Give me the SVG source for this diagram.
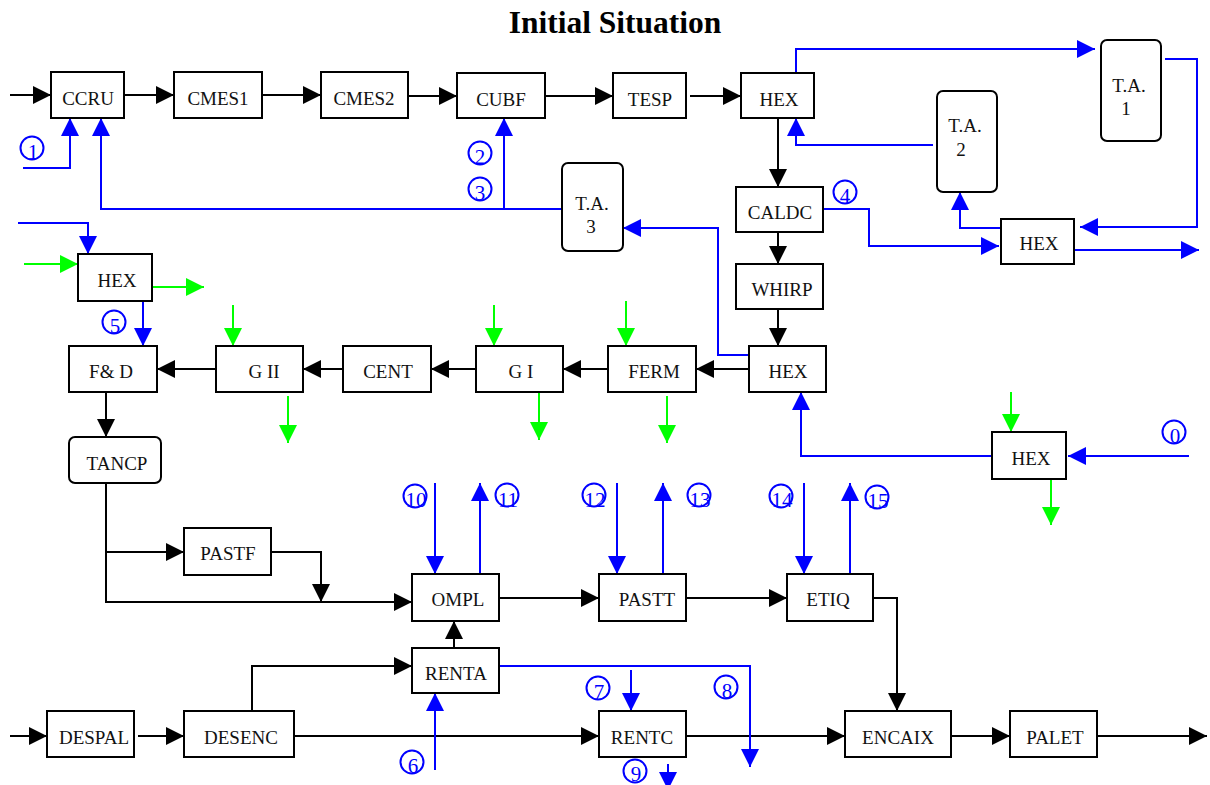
<svg xmlns="http://www.w3.org/2000/svg" width="1210" height="785" viewBox="0 0 1210 785">
<style>
.box{fill:#fff;stroke:#000;stroke-width:2}
.lbl{font-family:"Liberation Serif","Times New Roman",serif;font-size:19px;fill:#111;text-anchor:middle}
.num{font-family:"Liberation Serif","Times New Roman",serif;font-size:21px;fill:#0000ff;text-anchor:middle}
.circ{fill:none;stroke:#0000ff;stroke-width:2}
.k{fill:none;stroke:#000;stroke-width:2;marker-end:url(#ak)}
.b{fill:none;stroke:#0000ff;stroke-width:2;marker-end:url(#ab)}
.g{fill:none;stroke:#00ff00;stroke-width:2;marker-end:url(#ag)}
.title{font-family:"Liberation Serif","Times New Roman",serif;font-size:31.5px;font-weight:bold;text-anchor:middle;fill:#000}
</style>
<defs>
<marker id="ak" markerUnits="userSpaceOnUse" markerWidth="18" markerHeight="18" refX="18" refY="9" orient="auto"><path d="M0,0 L18,9 L0,18 z" fill="#000"/></marker>
<marker id="ab" markerUnits="userSpaceOnUse" markerWidth="18" markerHeight="18" refX="18" refY="9" orient="auto"><path d="M0,0 L18,9 L0,18 z" fill="#0000ff"/></marker>
<marker id="ag" markerUnits="userSpaceOnUse" markerWidth="18" markerHeight="18" refX="18" refY="9" orient="auto"><path d="M0,0 L18,9 L0,18 z" fill="#00ff00"/></marker>
</defs>
<rect width="1210" height="785" fill="#fff"/>
<text class="title" x="615" y="33">Initial Situation</text>

<g id="connectors">
<path class="k" d="M10,95 H51"/>
<path class="k" d="M124,95 H174"/>
<path class="k" d="M262,95 H321"/>
<path class="k" d="M408,96 H457"/>
<path class="k" d="M545,96 H613"/>
<path class="k" d="M690,96 H741"/>
<path class="k" d="M778,118 V187"/>
<path class="k" d="M778,232 V264"/>
<path class="k" d="M778,309 V346"/>
<path class="k" d="M749,369 H696"/>
<path class="k" d="M608,369 H563"/>
<path class="k" d="M476,369 H431"/>
<path class="k" d="M343,369 H303"/>
<path class="k" d="M216,369 H157"/>
<path class="k" d="M106,392 V437"/>
<path class="k" d="M106,483 V602 H412"/>
<path class="k" d="M106,552 H184"/>
<path class="k" d="M271,552 H321 V602"/>
<path class="k" d="M454,648 V621"/>
<path class="k" d="M252,711 V666 H412"/>
<path class="k" d="M294,736 H599"/>
<path class="k" d="M10,736 H47"/>
<path class="k" d="M138,736 H184"/>
<path class="k" d="M499,598 H599"/>
<path class="k" d="M686,598 H787"/>
<path class="k" d="M873,598 H897 V711"/>
<path class="k" d="M686,736 H845"/>
<path class="k" d="M951,736 H1010"/>
<path class="k" d="M1097,736 H1207"/>

<path class="b" d="M23,168 H70 V118"/>
<path class="b" d="M562,209 H101 V118"/>
<path class="b" d="M504,209 V118"/>
<path class="b" d="M796,73 V49 H1095"/>
<path class="b" d="M1165,59 H1197 V227 H1080"/>
<path class="b" d="M1001,228 H960 V192"/>
<path class="b" d="M823,209 H869 V246 H999"/>
<path class="b" d="M1074,250 H1199"/>
<path class="b" d="M933,145 H796 V118"/>
<path class="b" d="M749,355 H718 V228 H623"/>
<path class="b" d="M18,223 H88 V254"/>
<path class="b" d="M143,301 V346"/>
<path class="b" d="M1189,456 H1068"/>
<path class="b" d="M992,456 H801 V392"/>
<path class="b" d="M435,483 V574"/>
<path class="b" d="M480,574 V483"/>
<path class="b" d="M617,483 V574"/>
<path class="b" d="M663,574 V483"/>
<path class="b" d="M804,483 V574"/>
<path class="b" d="M850,574 V483"/>
<path class="b" d="M435,770 V693"/>
<path class="b" d="M499,666 H750 V767"/>
<path class="b" d="M631,670 V711"/>
<path class="b" d="M668,764 V790"/>

<path class="g" d="M24,264 H78"/>
<path class="g" d="M152,287 H204"/>
<path class="g" d="M233,305 V346"/>
<path class="g" d="M288,396 V443"/>
<path class="g" d="M494,305 V346"/>
<path class="g" d="M539,392 V440"/>
<path class="g" d="M626,301 V346"/>
<path class="g" d="M667,396 V443"/>
<path class="g" d="M1011,392 V432"/>
<path class="g" d="M1051,479 V525"/>
</g>

<g id="labels">
<circle class="circ" cx="32" cy="148" r="11.5"/><text class="num" x="33" y="159">1</text>
<circle class="circ" cx="480" cy="153" r="11.5"/><text class="num" x="480" y="164">2</text>
<circle class="circ" cx="480" cy="189" r="11.5"/><text class="num" x="480" y="200">3</text>
<circle class="circ" cx="845" cy="192" r="11.5"/><text class="num" x="845" y="203">4</text>
<circle class="circ" cx="114" cy="322" r="11.5"/><text class="num" x="115" y="333">5</text>
<circle class="circ" cx="412" cy="762" r="11.5"/><text class="num" x="413" y="773">6</text>
<circle class="circ" cx="598" cy="688" r="11.5"/><text class="num" x="599" y="699">7</text>
<circle class="circ" cx="726" cy="687" r="11.5"/><text class="num" x="727" y="698">8</text>
<circle class="circ" cx="635" cy="771" r="11.5"/><text class="num" x="636" y="781">9</text>
<circle class="circ" cx="1174" cy="432" r="11.5"/><text class="num" x="1175" y="443">0</text>
<circle class="circ" cx="415" cy="496" r="11.5"/><text class="num" x="416" y="507">10</text>
<circle class="circ" cx="507" cy="495" r="11.5"/><text class="num" x="508" y="507">11</text>
<circle class="circ" cx="594" cy="495" r="11.5"/><text class="num" x="595" y="507">12</text>
<circle class="circ" cx="699" cy="495" r="11.5"/><text class="num" x="700" y="507">13</text>
<circle class="circ" cx="781" cy="496" r="11.5"/><text class="num" x="782" y="507">14</text>
<circle class="circ" cx="877" cy="497" r="11.5"/><text class="num" x="878" y="508">15</text>
</g>

<g id="n-ccru"><rect class="box" x="51" y="72" width="73" height="46"/><text class="lbl" x="88" y="105">CCRU</text></g>
<g id="n-cmes1"><rect class="box" x="174" y="72" width="88" height="46"/><text class="lbl" x="218" y="105">CMES1</text></g>
<g id="n-cmes2"><rect class="box" x="321" y="72" width="87" height="46"/><text class="lbl" x="364" y="105">CMES2</text></g>
<g id="n-cubf"><rect class="box" x="457" y="73" width="88" height="45"/><text class="lbl" x="501" y="106">CUBF</text></g>
<g id="n-tesp"><rect class="box" x="613" y="73" width="73" height="45"/><text class="lbl" x="650" y="106">TESP</text></g>
<g id="n-hex1"><rect class="box" x="741" y="73" width="73" height="45"/><text class="lbl" x="779" y="106">HEX</text></g>
<g id="n-ta1"><rect class="box" x="1101" y="40" width="60" height="101" rx="6"/><text class="lbl" x="1129" y="92">T.A.</text><text class="lbl" x="1126" y="115">1</text></g>
<g id="n-ta2"><rect class="box" x="937" y="91" width="60" height="101" rx="6"/><text class="lbl" x="965" y="132">T.A.</text><text class="lbl" x="961" y="156">2</text></g>
<g id="n-ta3"><rect class="box" x="562" y="163" width="61" height="88" rx="6"/><text class="lbl" x="592" y="210">T.A.</text><text class="lbl" x="591" y="233">3</text></g>
<g id="n-caldc"><rect class="box" x="736" y="187" width="87" height="45"/><text class="lbl" x="780" y="219">CALDC</text></g>
<g id="n-hex2"><rect class="box" x="1001" y="219" width="73" height="45"/><text class="lbl" x="1039" y="250">HEX</text></g>
<g id="n-whirp"><rect class="box" x="736" y="264" width="87" height="45"/><text class="lbl" x="782" y="296">WHIRP</text></g>
<g id="n-hex3"><rect class="box" x="78" y="254" width="74" height="47"/><text class="lbl" x="117" y="287">HEX</text></g>
<g id="n-hex4"><rect class="box" x="749" y="346" width="77" height="46"/><text class="lbl" x="788" y="378">HEX</text></g>
<g id="n-ferm"><rect class="box" x="608" y="346" width="88" height="46"/><text class="lbl" x="654" y="378">FERM</text></g>
<g id="n-gi"><rect class="box" x="476" y="346" width="87" height="46"/><text class="lbl" x="521" y="378">G I</text></g>
<g id="n-cent"><rect class="box" x="343" y="346" width="88" height="46"/><text class="lbl" x="388" y="378">CENT</text></g>
<g id="n-gii"><rect class="box" x="216" y="346" width="87" height="46"/><text class="lbl" x="264" y="378">G II</text></g>
<g id="n-fd"><rect class="box" x="69" y="346" width="88" height="46"/><text class="lbl" x="111" y="378">F&amp; D</text></g>
<g id="n-tancp"><rect class="box" x="69" y="437" width="92" height="46" rx="6"/><text class="lbl" x="117" y="470">TANCP</text></g>
<g id="n-hex5"><rect class="box" x="992" y="432" width="74" height="47"/><text class="lbl" x="1031" y="465">HEX</text></g>
<g id="n-pastf"><rect class="box" x="184" y="528" width="87" height="47"/><text class="lbl" x="228" y="560">PASTF</text></g>
<g id="n-ompl"><rect class="box" x="412" y="574" width="87" height="47"/><text class="lbl" x="458" y="606">OMPL</text></g>
<g id="n-pastt"><rect class="box" x="599" y="574" width="87" height="47"/><text class="lbl" x="647" y="606">PASTT</text></g>
<g id="n-etiq"><rect class="box" x="787" y="574" width="86" height="47"/><text class="lbl" x="828" y="606">ETIQ</text></g>
<g id="n-renta"><rect class="box" x="412" y="648" width="87" height="45"/><text class="lbl" x="456" y="680">RENTA</text></g>
<g id="n-rentc"><rect class="box" x="599" y="711" width="87" height="46"/><text class="lbl" x="642" y="744">RENTC</text></g>
<g id="n-despal"><rect class="box" x="47" y="711" width="87" height="46"/><text class="lbl" x="94" y="744">DESPAL</text></g>
<g id="n-desenc"><rect class="box" x="184" y="711" width="110" height="46"/><text class="lbl" x="241" y="744">DESENC</text></g>
<g id="n-encaix"><rect class="box" x="845" y="711" width="106" height="46"/><text class="lbl" x="898" y="744">ENCAIX</text></g>
<g id="n-palet"><rect class="box" x="1010" y="711" width="87" height="46"/><text class="lbl" x="1055" y="744">PALET</text></g>
</svg>
